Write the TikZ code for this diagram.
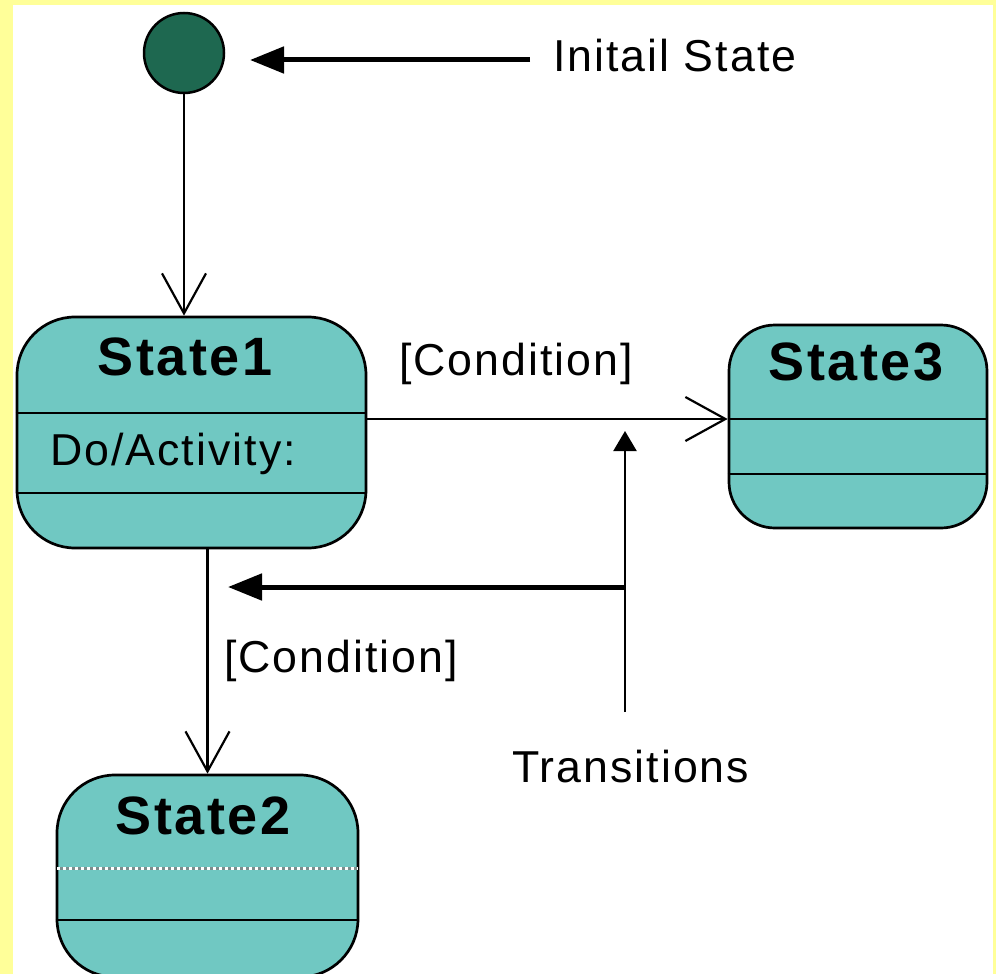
\documentclass[tikz,border=0pt]{standalone}
\usepackage{fontspec}
\setmainfont{Liberation Sans}
\newfontfamily\lblfont[LetterSpace=4.5]{Liberation Sans}
\usetikzlibrary{arrows.meta}
\definecolor{bgyellow}{RGB}{255,255,153}
\definecolor{initgreen}{RGB}{30,104,80}
\definecolor{statefill}{RGB}{112,200,194}
\tikzset{
  statebox/.style={draw=black, line width=2.7pt, fill=statefill, rounded corners=#1, inner sep=0pt, rectangle},
  divider/.style={draw=black, line width=2.3pt},
  dotdivider/.style={draw=white, line width=3pt, dash pattern=on 3pt off 3pt},
  dotunder/.style={draw=gray!80!statefill, line width=3pt},
  title/.style={font=\lblfont\bfseries\fontsize{54}{60}\selectfont, inner sep=0pt},
  lbl/.style={font=\lblfont\fontsize{44.7}{50}\selectfont, inner sep=0pt, anchor=base west},
  openarrow/.style={draw=black, line width=2.2pt, -{Straight Barb[length=40pt,width=44pt,line width=2.2pt]}},
  fatarrow/.style={draw=black, line width=5pt, -{Triangle[length=34pt,width=26pt]}},
  thinfat/.style={draw=black, line width=2.2pt, -{Triangle[length=20pt,width=23pt]}}
}
\begin{document}
\begin{tikzpicture}[x=1pt,y=-1pt]
\useasboundingbox (0,0) rectangle (996,974);
\clip (0,0) rectangle (996,974);
% background
\fill[bgyellow] (0,0) rectangle (996,974);
\fill[white] (13,5) rectangle (993,980);

% initial state
\node[circle, draw=black, line width=2.5pt, fill=initgreen, minimum size=80pt, inner sep=0pt] (init) at (184,53) {};

% states
\node[statebox=58pt, minimum width=349pt, minimum height=231pt] (s1) at (191.5,432.5) {};
\draw[divider] (s1.west |- 0,413) -- (s1.east |- 0,413);
\draw[divider] (s1.west |- 0,493) -- (s1.east |- 0,493);
\node[title] (t1) at (185,357) {State1};
\node[lbl] (act) at (50,465) {Do/Activity:};

\node[statebox=46pt, minimum width=258pt, minimum height=203pt] (s3) at (858,426.5) {};
\draw[divider] (s3.west |- 0,419) -- (s3.east |- 0,419);
\draw[divider] (s3.west |- 0,474) -- (s3.east |- 0,474);
\node[title] (t3) at (856,362) {State3};

\node[statebox=58pt, minimum width=301pt, minimum height=202pt] (s2) at (207.5,876) {};
\draw[dotunder] ([xshift=1.4pt]s2.west |- 0,868) -- ([xshift=-1.4pt]s2.east |- 0,868);
\draw[dotdivider] ([xshift=1.4pt]s2.west |- 0,868) -- ([xshift=-1.4pt]s2.east |- 0,868);
\draw[divider] (s2.west |- 0,920) -- (s2.east |- 0,920);
\node[title] (t2) at (203,816) {State2};

% labels
\node[lbl] (islbl) at (553,72) {Initail State};
\node[lbl] (c1) at (399,375) {[Condition]};
\node[lbl] (c2) at (224,672) {[Condition]};
\node[lbl] (trl) at (512,782) {Transitions};

% coordinates
\coordinate (isA) at (530,60);
\coordinate (isB) at (250,60);
\coordinate (tb) at (625,712);
\coordinate (tj) at (625,587);
\coordinate (tt) at (625,431);
\coordinate (tl) at (228,587);

% connectors
\draw[openarrow] (init.south) -- (init.south |- s1.north);
\draw[openarrow] (s1.east |- 0,419) -- (s3.west |- 0,419);
\draw[openarrow] (s2.north |- s1.south) -- (s2.north);

\draw[fatarrow] (isA) -- (isB);
\draw[thinfat] (tb) -- (tt);
\draw[fatarrow] (tj) -- (tl);
\end{tikzpicture}
\end{document}
